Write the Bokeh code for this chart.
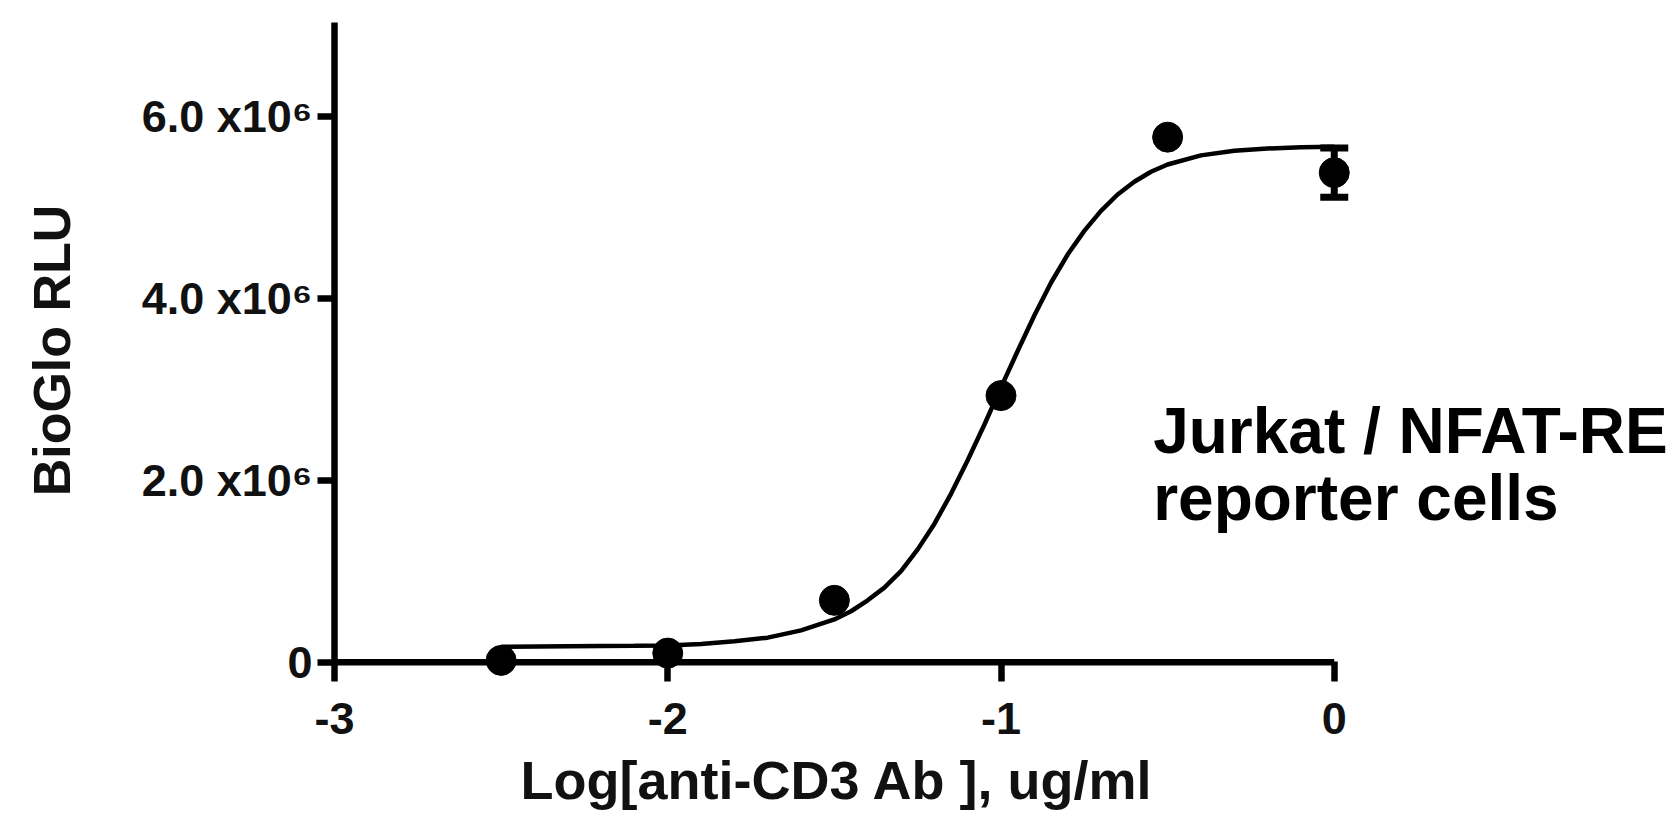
from bokeh.plotting import figure
from bokeh.models import FixedTicker, Whisker, TeeHead, ColumnDataSource, Label, Range1d
from bokeh.embed import file_html
from bokeh.resources import INLINE

# ---- data ----
log_conc = [-2.5, -2.0, -1.5, -1.0, -0.5, 0.0]
rlu_mean = [0.02e6, 0.10e6, 0.68e6, 2.93e6, 5.77e6, 5.38e6]
rlu_sem = [0.0, 0.0, 0.0, 0.0, 0.0, 0.27e6]

fit_x = [-2.5, -2.3, -2.1, -2.0, -1.9, -1.8, -1.7, -1.6, -1.5, -1.45, -1.4, -1.35,
         -1.3, -1.25, -1.2, -1.15, -1.1, -1.05, -1.0, -0.95, -0.9, -0.85, -0.8,
         -0.75, -0.7, -0.65, -0.6, -0.55, -0.5, -0.4, -0.3, -0.2, -0.1, 0.0]
fit_y = [0.17e6, 0.175e6, 0.18e6, 0.185e6, 0.20e6, 0.23e6, 0.27e6, 0.35e6, 0.47e6, 0.56e6,
         0.68e6, 0.82e6, 1.00e6, 1.24e6, 1.52e6, 1.85e6, 2.22e6, 2.61e6, 3.02e6, 3.42e6,
         3.81e6, 4.17e6, 4.48e6, 4.74e6, 4.96e6, 5.14e6, 5.28e6, 5.39e6, 5.47e6, 5.57e6,
         5.62e6, 5.645e6, 5.66e6, 5.665e6]

x_ticks = [-3, -2, -1, 0]
x_tick_labels = ["-3", "-2", "-1", "0"]
y_ticks = [0, 2e6, 4e6, 6e6]
y_tick_labels = ["0", "2.0 x10\u2076", "4.0 x10\u2076", "6.0 x10\u2076"]

x_title = "Log[anti-CD3 Ab ], ug/ml"
y_title = "BioGlo RLU"
note_lines = ["Jurkat / NFAT-RE", "reporter cells"]

FONT = "Liberation Sans"

p = figure(width=1672, height=822, output_backend="svg", toolbar_location=None,
           x_range=Range1d(-3, 1.0), y_range=Range1d(-0.179e6, 7.03e6),
           title=x_title, title_location="below",
           min_border_left=334, min_border_right=5, min_border_top=22, min_border_bottom=144)
p.outline_line_color = None
p.grid.visible = False
p.background_fill_color = "white"
p.border_fill_color = "white"

# x-axis title (drawn as the figure's title, placed below the axis)
p.title.text_font = FONT
p.title.text_font_style = "bold"
p.title.text_font_size = "54px"
p.title.text_color = "#111111"
p.title.align = "left"
p.title.offset = 186
p.title.standoff = 22

# axes
p.xaxis.bounds = (-3, 0)
p.xaxis.ticker = FixedTicker(ticks=x_ticks)
p.xaxis.major_label_overrides = dict(zip(x_ticks, x_tick_labels))
p.yaxis.bounds = (0, 7.03e6)
p.yaxis.ticker = FixedTicker(ticks=y_ticks)
p.yaxis.major_label_overrides = dict(zip(y_ticks, y_tick_labels))

for ax in (p.xaxis, p.yaxis):
    ax.axis_line_width = 6.5
    ax.axis_line_color = "black"
    ax.major_tick_line_width = 6.5
    ax.major_tick_line_color = "black"
    ax.major_tick_in = 0
    ax.minor_tick_out = 0
    ax.minor_tick_in = 0
    ax.major_label_text_font = FONT
    ax.major_label_text_font_style = "bold"
    ax.major_label_text_font_size = "45px"
    ax.major_label_text_color = "#111111"

# x axis sits at the frame bottom; its visible line is drawn at y = 0 below
p.xaxis.axis_line_color = None
p.xaxis.major_tick_in = 17
p.xaxis.major_tick_out = 3
p.xaxis.major_label_standoff = 21

p.yaxis.major_tick_out = 17
p.yaxis.major_label_standoff = 5
p.yaxis.axis_label = y_title
p.yaxis.axis_label_text_font = FONT
p.yaxis.axis_label_text_font_style = "bold"
p.yaxis.axis_label_text_font_size = "52px"
p.yaxis.axis_label_text_color = "#111111"
p.yaxis.axis_label_standoff = 58

# x axis line at y = 0
p.segment(x0=[x_ticks[0]], y0=[y_ticks[0]], x1=[x_ticks[-1]], y1=[y_ticks[0]],
          line_color="black", line_width=6.5)

# fitted curve
p.line(fit_x, fit_y, line_color="black", line_width=4.5)

# error bars (only where visible)
eb = [(x, m, s) for x, m, s in zip(log_conc, rlu_mean, rlu_sem) if s > 0]
eb_src = ColumnDataSource(data=dict(
    x=[e[0] for e in eb],
    lo=[e[1] - e[2] for e in eb],
    hi=[e[1] + e[2] for e in eb]))
p.segment(x0="x", y0="lo", x1="x", y1="hi", source=eb_src, line_color="black", line_width=7)
p.add_layout(Whisker(base="x", lower="lo", upper="hi", source=eb_src, dimension="height",
                     line_width=0, line_alpha=0,
                     upper_head=TeeHead(size=28, line_width=7, line_color="black"),
                     lower_head=TeeHead(size=28, line_width=7, line_color="black")))

# points
p.scatter(log_conc, rlu_mean, size=30, color="black", marker="circle")

# annotation
for txt, yb in zip(note_lines, [2.545e6, 1.81e6]):
    p.add_layout(Label(x=-0.5435, y=yb, text=txt, text_align="left",
                       text_baseline="alphabetic", text_font=FONT,
                       text_font_style="bold", text_font_size="64px", text_color="black"))

open("out.html", "w").write(file_html(p, INLINE))
